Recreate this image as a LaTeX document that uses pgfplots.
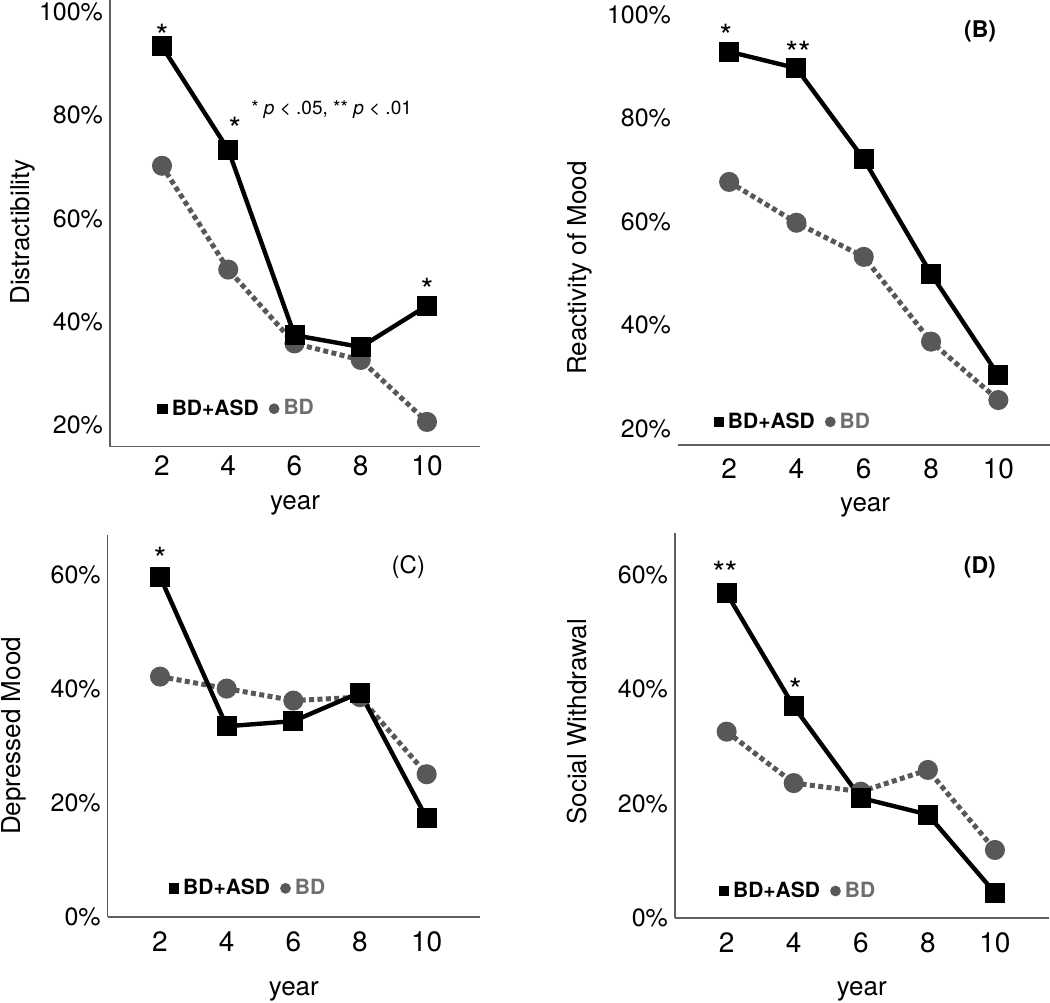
\documentclass[border=0pt]{standalone}
\usepackage{fontspec}
\setmainfont{TeX Gyre Heros}
\usepackage{pgfplots}
\pgfplotsset{compat=1.18}
\definecolor{bdgray}{RGB}{88,88,88}
\definecolor{bdtext}{RGB}{110,110,110}
\definecolor{axgray}{RGB}{95,95,95}
\tikzset{sigstar/.style={font=\fontsize{16}{17}\selectfont}}
\pgfplotsset{
 panel/.style={
  scale only axis, anchor=south west,
  axis x line*=bottom, axis y line*=left,
  axis line style={axgray, line width=0.8pt, -},
  xtick={2,4,6,8,10},
  major tick length=0pt,
  /pgf/number format/assume math mode=true,
  yticklabel style={font=\fontsize{12.5}{14}\selectfont},
  xticklabel style={font=\fontsize{14}{15}\selectfont},
  label style={font=\fontsize{13}{15}\selectfont},
  xlabel={year},
  clip=false,
  legend columns=2,
  legend style={draw=none, fill=none, inner sep=0pt, anchor=west,
    font=\bfseries\fontsize{10.5}{11}\selectfont,
    /tikz/every even column/.append style={column sep=3pt}},
 },
 asd/.style={black, line width=2.2pt, mark=square*, mark size=3.9pt, mark options={solid, draw=none, fill=black}},
 bd/.style={bdgray, line width=2.5pt, dash pattern=on 2.5pt off 1.7pt, mark=*, mark size=3.75pt, mark options={solid, draw=none, fill=bdgray}},
 legasd/.style={legend image code/.code={\path[draw=none,fill=none] (0pt,-2.6pt) rectangle (5.2pt,2.6pt); \fill[black, draw=none, solid] (0pt,-2.6pt) rectangle (5.2pt,2.6pt);}},
 legbd/.style={legend image code/.code={\path[draw=none,fill=none] (0pt,-2.6pt) rectangle (5.2pt,2.6pt); \fill[bdgray, draw=none, solid] (2.6pt,0pt) circle[radius=2.7pt];}},
}
\begin{document}
\begin{tikzpicture}
\path[use as bounding box] (0pt,0pt) rectangle (525pt,501pt);
% Panel A
\begin{axis}[panel, at={(55pt,277.65pt)}, width=185pt, height=223.35pt,
  xmin=0.43, xmax=11.6, ymin=15.8, ymax=102.3,
  ytick={20,40,60,80,100}, yticklabels={20\%,40\%,60\%,80\%,100\%},
  xticklabel style={yshift=-1pt},
  ylabel={Distractibility},
  ylabel style={at={(axis description cs:-0.235,0.481)}, anchor=center},
  xlabel style={at={(axis description cs:0.5,0)}, anchor=center, yshift=-29.5pt},
  legend style={at={(axis description cs:0.127,0.085)}}]
\addplot[bd, forget plot] coordinates {(2,70.2)(4,50.1)(6,35.8)(8,32.6)(10,20.6)};
\addplot[asd, forget plot] coordinates {(2,93.3)(4,73.3)(6,37.4)(8,35.1)(10,43.1)};
\addlegendimage{legasd}\addlegendentry{BD+ASD}
\addlegendimage{legbd}\addlegendentry{\textcolor{bdtext}{BD}}
\node[sigstar] at (axis cs:2,95.3) {*};
\node[sigstar] at (axis cs:4.2,77.4) {*};
\node[sigstar] at (axis cs:10,46.1) {*};
\node[font=\fontsize{9.5}{11}\selectfont] at (axis cs:7.12,81.0) {* \textit{p} < .05, ** \textit{p} < .01};
\end{axis}
% Panel B
\begin{axis}[panel, at={(339pt,278.5pt)}, width=187.1pt, height=222.5pt,
  xmin=0.48, xmax=11.6, ymin=16.8, ymax=102.9,
  y axis line style={draw=none},
  ytick={20,40,60,80,100}, yticklabels={20\%,40\%,60\%,80\%,100\%},
  xticklabel style={yshift=-3.4pt},
  ylabel={Reactivity of Mood},
  ylabel style={at={(axis description cs:-0.262,0.398)}, anchor=center},
  xlabel style={at={(axis description cs:0.5,0)}, anchor=center, yshift=-31pt},
  legend style={at={(axis description cs:0.094,0.052)}}]
\addplot[bd, forget plot] coordinates {(2,67.7)(4,59.8)(6,53.2)(8,36.8)(10,25.5)};
\addplot[asd, forget plot] coordinates {(2,92.9)(4,89.7)(6,72.1)(8,49.9)(10,30.3)};
\addlegendimage{legasd}\addlegendentry{BD+ASD}
\addlegendimage{legbd}\addlegendentry{\textcolor{bdtext}{BD}}
\node[sigstar] at (axis cs:1.9,95.9) {*};
\node[sigstar] at (axis cs:4.05,92.7) {**};
\node[font=\bfseries\fontsize{11.5}{12}\selectfont] at (axis cs:9.46,96.8) {(B)};
\end{axis}
% Panel C
\begin{axis}[panel, at={(53.85pt,42.5pt)}, width=186.15pt, height=191pt,
  xmin=0.43, xmax=11.6, ymin=0, ymax=66.9,
  ytick={0,20,40,60}, yticklabels={0\%,20\%,40\%,60\%},
  xticklabel style={yshift=-4pt},
  ylabel={Depressed Mood},
  ylabel style={at={(axis description cs:-0.252,0.474)}, anchor=center},
  xlabel style={at={(axis description cs:0.5,0)}, anchor=center, yshift=-37pt},
  legend style={at={(axis description cs:0.163,0.075)}}]
\addplot[bd, forget plot] coordinates {(2,42.1)(4,40.0)(6,37.9)(8,38.5)(10,25.0)};
\addplot[asd, forget plot] coordinates {(2,59.6)(4,33.4)(6,34.3)(8,39.3)(10,17.3)};
\addlegendimage{legasd}\addlegendentry{BD+ASD}
\addlegendimage{legbd}\addlegendentry{\textcolor{bdtext}{BD}}
\node[sigstar] at (axis cs:2,62.7) {*};
\node[font=\fontsize{12}{13}\selectfont] at (axis cs:9.45,61.3) {(C)};
\end{axis}
% Panel D
\begin{axis}[panel, at={(337.5pt,42pt)}, width=186.8pt, height=192.65pt,
  xmin=0.46, xmax=11.6, ymin=0, ymax=67.4,
  ytick={0,20,40,60}, yticklabels={0\%,20\%,40\%,60\%},
  xticklabel style={yshift=-4pt},
  ylabel={Social Withdrawal},
  ylabel style={at={(axis description cs:-0.262,0.509)}, anchor=center},
  xlabel style={at={(axis description cs:0.5,0)}, anchor=center, yshift=-36.5pt},
  legend style={at={(axis description cs:0.116,0.070)}}]
\addplot[bd, forget plot] coordinates {(2,32.6)(4,23.6)(6,22.1)(8,25.9)(10,11.9)};
\addplot[asd, forget plot] coordinates {(2,56.8)(4,37.0)(6,21.0)(8,18.1)(10,4.4)};
\addlegendimage{legasd}\addlegendentry{BD+ASD}
\addlegendimage{legbd}\addlegendentry{\textcolor{bdtext}{BD}}
\node[sigstar] at (axis cs:1.95,60.4) {**};
\node[sigstar] at (axis cs:4.05,39.9) {*};
\node[font=\bfseries\fontsize{11.5}{12}\selectfont] at (axis cs:9.55,61.4) {(D)};
\end{axis}
\end{tikzpicture}
\end{document}
